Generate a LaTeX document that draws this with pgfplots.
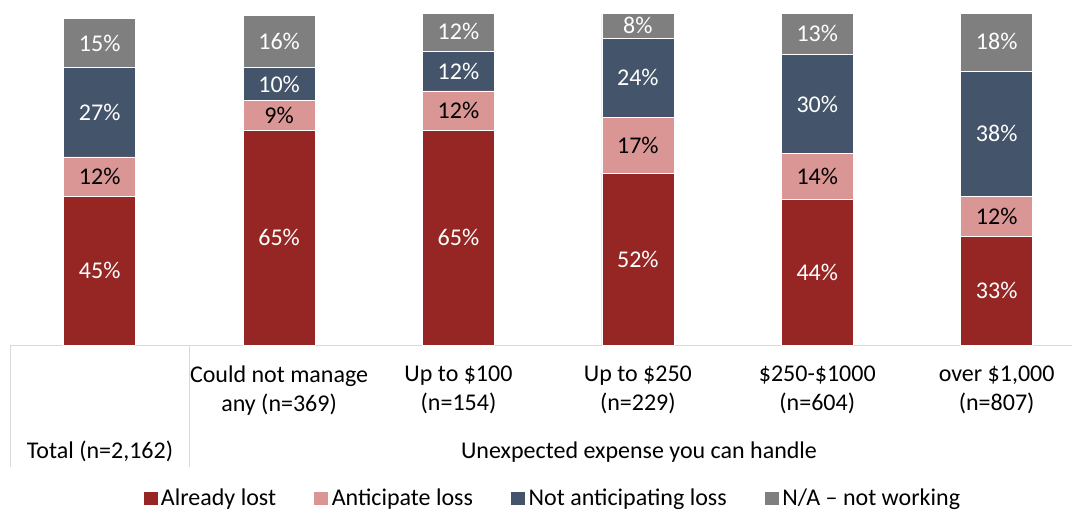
\documentclass[border=0pt]{standalone}
\usepackage{fontspec}
\setmainfont{Carlito}
\usepackage{pgfplots}
\usepackage{pgfplotstable}
\pgfplotsset{compat=1.18}

\definecolor{lost}{HTML}{952623}
\definecolor{antic}{HTML}{D99694}
\definecolor{notant}{HTML}{44546A}
\definecolor{na}{HTML}{7F7F7F}
\definecolor{rule}{HTML}{D9D9D9}
\newcommand\lbl{\fontsize{18pt}{21.75pt}\selectfont}

% shares in percent, one row per group
\pgfplotstableread{
x lost antic notant na
0 45 12 27 15
1 65 9  10 16
2 65 12 12 12
3 52 17 24 8
4 44 14 30 13
5 33 12 38 18
}\losstable

\begin{document}
\begin{tikzpicture}
\useasboundingbox (0,0) rectangle (805.5pt,384pt);
\begin{scope}
% bars that add up to 101 are cut at 100, as in the original
\clip (0,0) rectangle (805.5pt,372.75pt);
\begin{axis}[
    at={(7.5pt,125.25pt)}, anchor=south west,
    scale only axis, width=796.5pt, height=249.975pt,
    ybar stacked, bar width=54pt,
    xmin=-0.5, xmax=5.42, ymin=0, ymax=101,
    axis x line*=bottom, axis y line=none,
    x axis line style={draw=rule, line width=0.75pt, -},
    xtick={0,...,5}, major tick length=0pt,
    xticklabels={{},{Could not manage\\any (n=369)},{Up to \$100\\(n=154)},
        {Up to \$250\\(n=229)},{\$250-\$1000\\(n=604)},{over \$1,000\\(n=807)}},
    xticklabel style={font=\lbl, align=center, anchor=north, inner sep=0pt, yshift=-15.75pt},
    point meta=explicit symbolic,
    nodes near coords={\pgfplotspointmeta\%},
    every node near coord/.append style={font=\lbl, anchor=center},
    legend columns=4,
    legend style={at={(0.511,-0.46)}, anchor=center, draw=none, fill=none, font=\lbl,
        /tikz/every even column/.append style={column sep=26pt}},
    legend image code/.code={\fill[#1] (0pt,-5.6pt) rectangle (11.25pt,5.6pt);},
]
\addplot[fill=lost, draw=white, line width=0.5pt,
    every node near coord/.append style={text=white}]
    table[x=x, y=lost, meta=lost] {\losstable};
\addplot[fill=antic, draw=white, line width=0.5pt,
    every node near coord/.append style={text=black}]
    table[x=x, y=antic, meta=antic] {\losstable};
\addplot[fill=notant, draw=white, line width=0.5pt,
    every node near coord/.append style={text=white}]
    table[x=x, y=notant, meta=notant] {\losstable};
\addplot[fill=na, draw=white, line width=0.5pt,
    every node near coord/.append style={text=white}]
    table[x=x, y=na, meta=na] {\losstable};
\legend{Already lost, Anticipate loss, Not anticipating loss, N/A – not working}
\end{axis}
\end{scope}
\draw[rule, line width=0.75pt] (7.5pt,125.25pt) -- (7.5pt,33.75pt);
\draw[rule, line width=0.75pt] (142.1pt,125.25pt) -- (142.1pt,33.75pt);
\node[font=\lbl, anchor=base] at (75pt,40.5pt) {Total (n=2,162)};
\node[font=\lbl, anchor=base] at (479.25pt,40.5pt) {Unexpected expense you can handle};
\end{tikzpicture}
\end{document}
